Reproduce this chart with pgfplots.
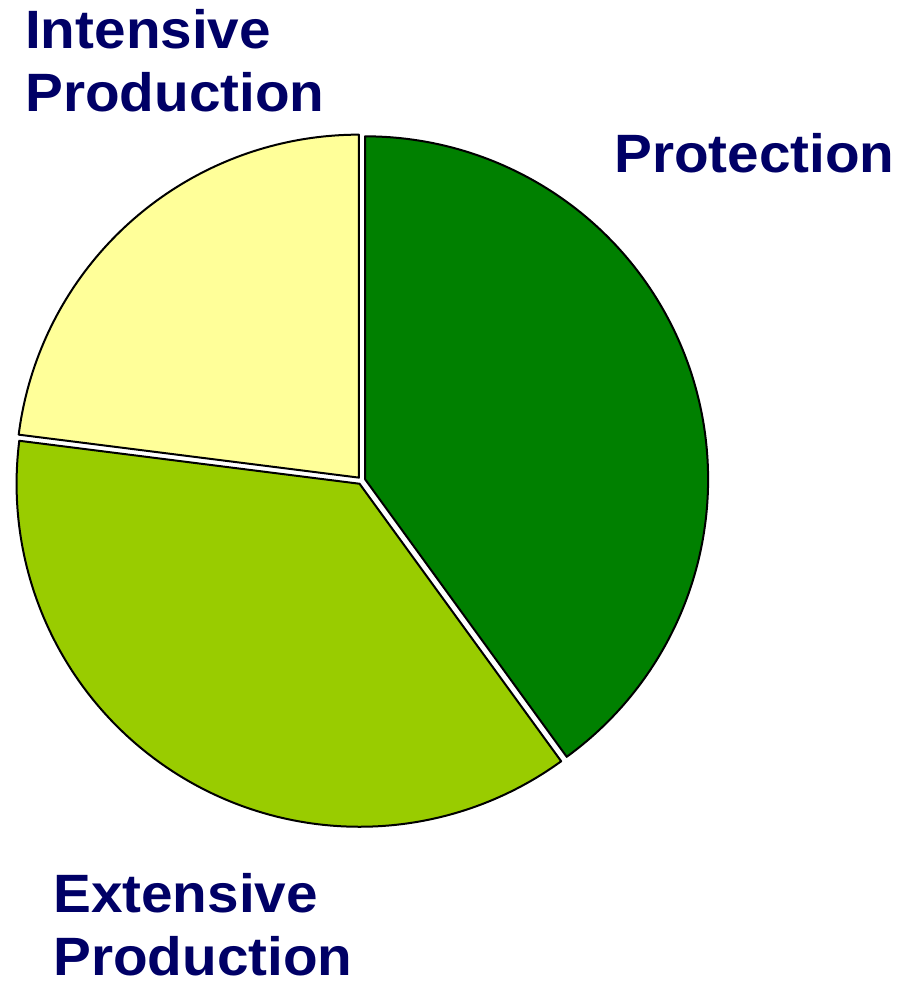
\documentclass[border=0pt]{standalone}
\usepackage{pgfplots}
\pgfplotsset{compat=1.18}
\usepackage{pgfplotstable}
\usepackage{fontspec}
\setmainfont{Liberation Sans}[FakeStretch=1.05]
\definecolor{pgreen}{HTML}{008000}
\definecolor{plgreen}{HTML}{99CC00}
\definecolor{pyellow}{HTML}{FFFF99}
\definecolor{navy}{HTML}{000066}

\pgfplotstableread{
label value
Protection 40
Extensive 37
Intensive 23
}\piedata

\newcommand{\pieslice}[3]{% #1 = end angle (low), #2 = start angle (high), #3 colour
  \pgfmathsetmacro\mida{(#1+#2)/2}%
  \pgfmathsetmacro\ox{361.5+3.8*cos(\mida)}%
  \pgfmathsetmacro\oy{503.5+3.8*sin(\mida)}%
  \pgfmathsetmacro\dlo{#1-1}%
  \pgfmathsetmacro\dhi{#2+1}%
  \edef\doslice{\noexpand\addplot[fill=#3, draw=black, line width=2pt, line join=round,
     domain=\dlo:\dhi, samples=400, variable=\noexpand\t]
    ({\ox+343*(\noexpand\t>#1-0.5)*(\noexpand\t<#2+0.5)*cos(max(#1,min(#2,\noexpand\t)))},
     {\oy+343*(\noexpand\t>#1-0.5)*(\noexpand\t<#2+0.5)*sin(max(#1,min(#2,\noexpand\t)))}) -- cycle;}%
  \doslice
}

\begin{document}
\begin{tikzpicture}
\pgfplotstablegetelem{0}{value}\of\piedata \let\vA\pgfplotsretval
\pgfplotstablegetelem{1}{value}\of\piedata \let\vB\pgfplotsretval
\pgfplotstablegetelem{2}{value}\of\piedata \let\vC\pgfplotsretval
\pgfmathsetmacro\aA{90}
\pgfmathsetmacro\aB{90-3.6*\vA}
\pgfmathsetmacro\aC{\aB-3.6*\vB}
\pgfmathsetmacro\aD{\aC-3.6*\vC}
\begin{axis}[hide axis, scale only axis, width=904pt, height=984pt,
  xmin=0, xmax=904, ymin=0, ymax=984, clip=false]
\path (rel axis cs:0,0) rectangle (rel axis cs:1,1);
\pieslice{\aB}{\aA}{pgreen}
\pieslice{\aC}{\aB}{plgreen}
\pieslice{\aD}{\aC}{pyellow}
\begin{scope}[every node/.style={anchor=base west, inner sep=0pt, text=navy,
   font=\fontsize{54}{63}\selectfont\bfseries}]
\node at (axis cs:25,935) {Intensive};
\node at (axis cs:25,872) {Production};
\node at (axis cs:614,811) {Protection};
\node at (axis cs:53,71) {Extensive};
\node at (axis cs:53,9) {Production};
\end{scope}
\end{axis}
\end{tikzpicture}
\end{document}
